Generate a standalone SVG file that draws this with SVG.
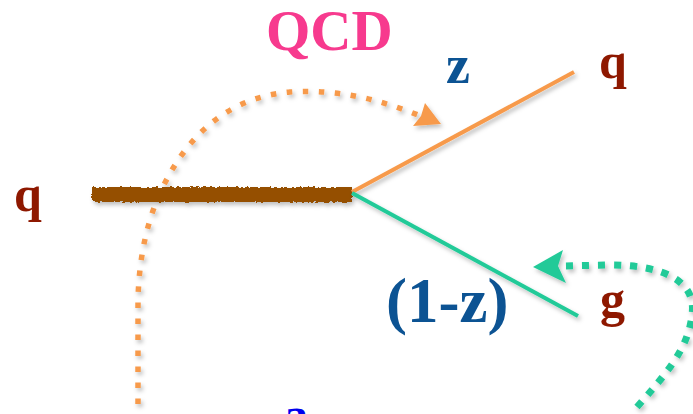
<svg xmlns="http://www.w3.org/2000/svg" width="693" height="414" viewBox="0 0 693 414">
<style>
.lbl{font-family:"Liberation Serif","Times New Roman",serif;font-weight:bold}
.red{fill:#8E1800}
.blue{fill:#0C5393}
.or{stroke:#F79A4B;fill:none}
.gr{stroke:#20CA98;fill:none}
</style>
<defs>
<filter id="sh" x="-20%" y="-20%" width="140%" height="160%">
<feDropShadow dx="2" dy="3" stdDeviation="2" flood-color="#000" flood-opacity="0.25"/>
</filter>
<filter id="rough" x="-5%" y="-60%" width="110%" height="220%">
<feTurbulence type="fractalNoise" baseFrequency="0.3 0.45" numOctaves="2" seed="3" result="n"/>
<feDisplacementMap in="SourceGraphic" in2="n" scale="4" xChannelSelector="R" yChannelSelector="G" result="d"/>
<feDropShadow dx="2" dy="3" stdDeviation="2" flood-color="#000" flood-opacity="0.25"/>
</filter>
</defs>
<rect width="693" height="414" fill="#fff"/>
<g id="connectors">
<path id="orange-arc" class="or" filter="url(#sh)" stroke-width="5.5" stroke-dasharray="5.5 10.5" d="M138,404 L138,300 C139,255 148,220 160,193 C182,145 220,98 290,92 C340,89 380,100 418,115"/>
<polygon id="orange-head" fill="#F79A4B" filter="url(#sh)" points="425,103 441,124 413,126 421,116"/>
<path id="green-arc" class="gr" filter="url(#sh)" stroke-width="7" stroke-dasharray="7 9" d="M637,407 C665,375 688,350 692,315 C697,282 665,265 610,265 L560,266"/>
<polygon id="green-head" fill="#20CA98" filter="url(#sh)" points="533,267 563,250 558,266 566,283"/>
</g>
<g id="quark-in">
<rect x="92" y="187" width="260" height="15" fill="#955000" filter="url(#rough)"/>
</g>
<g id="quark-out">
<line class="or" x1="352" y1="192" x2="574" y2="72" stroke-width="4" filter="url(#sh)"/>
</g>
<g id="gluon-out">
<line class="gr" x1="352" y1="193" x2="578" y2="316" stroke-width="4" filter="url(#sh)"/>
</g>
<g id="labels">
<text class="lbl" x="266" y="50" font-size="57" fill="#F73A8E">QCD</text>
<text class="lbl blue" x="446" y="83" font-size="54">z</text>
<text class="lbl red" x="599" y="78" font-size="50">q</text>
<text class="lbl red" x="14" y="211" font-size="50">q</text>
<text class="lbl red" x="600" y="316" font-size="50">g</text>
<text class="lbl blue" x="386" y="322" font-size="63">(1-z)</text>
<text class="lbl" x="284" y="431" font-size="48" fill="#0000EE">a</text>
</g>
</svg>
